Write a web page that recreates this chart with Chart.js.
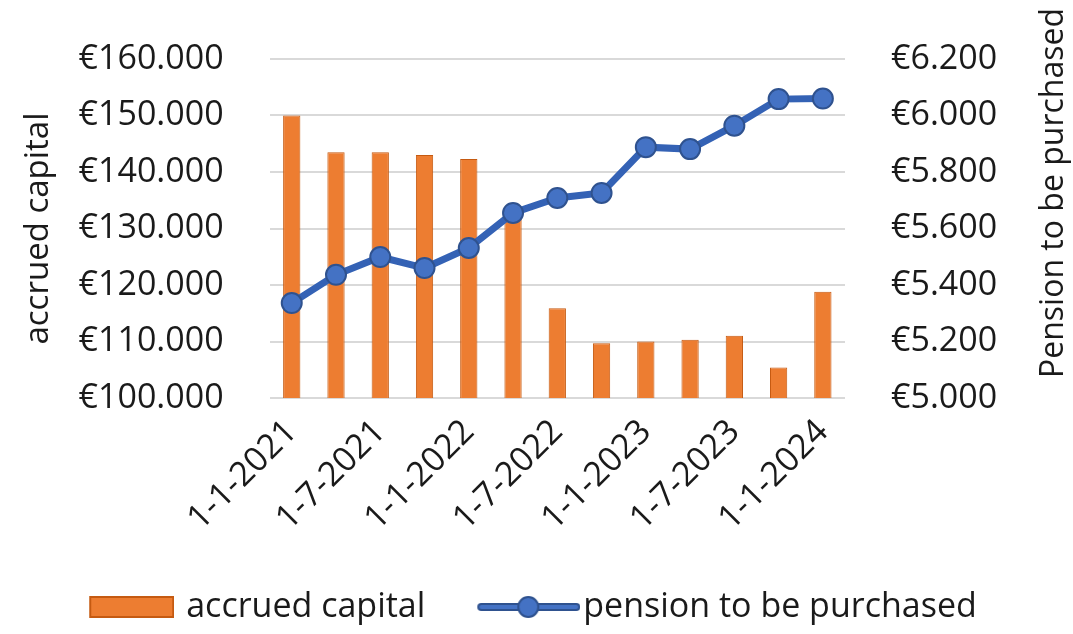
<!DOCTYPE html>
<html>
<head>
<meta charset="utf-8">
<script src="https://cdn.jsdelivr.net/npm/chart.js@4"></script>
<style>
  html, body { margin: 0; padding: 0; background: #fff; }
  #wrap { width: 1073px; height: 634px; }
</style>
</head>
<body>
<div id="wrap"><canvas id="chart" width="1073" height="634"></canvas></div>
<script>
const dates = ['1-1-2021', '1-4-2021', '1-7-2021', '1-10-2021', '1-1-2022', '1-4-2022', '1-7-2022',
    '1-10-2022', '1-1-2023', '1-4-2023', '1-7-2023', '1-10-2023', '1-1-2024'];
const accruedCapital = [150000, 143500, 143500, 143000, 142300, 132000, 115900, 109700, 110000, 110300, 111000, 105400, 118800];
const pension = [5336, 5436, 5499, 5460, 5531, 5655, 5708, 5726, 5888, 5881, 5964, 6058, 6060];

const FONT = '"Open Sans", "DejaVu Sans", sans-serif';
const TEXT = '#1a1a1a';
const CLEAR = 'rgba(0,0,0,0)';

function euro(v) {
    return '€' + String(v).replace(/\B(?=(\d{3})+(?!\d))/g, '.');
}

// legend symbols, drawn like the office-style swatches
function barSwatch() {
    const c = document.createElement('canvas');
    c.width = 98; c.height = 26;
    const g = c.getContext('2d');
    g.fillStyle = '#ED7D31';
    g.strokeStyle = '#C55A11';
    g.lineWidth = 2;
    g.fillRect(13, 2, 85, 22);
    g.strokeRect(14, 3, 83, 20);
    return c;
}

function lineSwatch() {
    const c = document.createElement('canvas');
    c.width = 116; c.height = 30;
    const g = c.getContext('2d');
    g.lineCap = 'round';
    g.strokeStyle = '#2F528F';
    g.lineWidth = 8;
    g.beginPath(); g.moveTo(17, 15); g.lineTo(112, 15); g.stroke();
    g.strokeStyle = '#4472C4';
    g.lineWidth = 4;
    g.beginPath(); g.moveTo(17, 15); g.lineTo(112, 15); g.stroke();
    g.beginPath(); g.arc(64, 15, 10, 0, Math.PI * 2);
    g.fillStyle = '#4472C4'; g.fill();
    g.strokeStyle = '#2F528F'; g.lineWidth = 2; g.stroke();
    return c;
}

const rightTitle = {
    id: 'rightTitle',
    afterDraw(chart) {
        const ctx = chart.ctx;
        ctx.save();
        ctx.translate(chart.width - 19, 193);
        ctx.rotate(-Math.PI / 2);
        ctx.font = '32px ' + FONT;
        ctx.fillStyle = TEXT;
        ctx.textAlign = 'center';
        ctx.textBaseline = 'middle';
        ctx.fillText('Pension to be purchased', 0, 0);
        ctx.restore();
    }
};

new Chart(document.getElementById('chart'), {
    data: {
        labels: dates,
        datasets: [{
            type: 'bar',
            label: 'accrued capital',
            data: accruedCapital,
            yAxisID: 'y',
            backgroundColor: '#ED7D31',
            borderColor: '#C55A11',
            borderWidth: 1,
            categoryPercentage: 1,
            barPercentage: 0.39,
            order: 1
        }, {
            type: 'line',
            label: 'pension to be purchased',
            data: pension,
            yAxisID: 'y1',
            borderColor: '#3462B5',
            borderWidth: 7,
            pointRadius: 10,
            pointBackgroundColor: '#4472C4',
            pointBorderColor: '#2F528F',
            pointBorderWidth: 2,
            tension: 0,
            order: 0
        }]
    },
    options: {
        responsive: false,
        animation: false,
        layout: { padding: { left: 14, right: 29, top: 59, bottom: 0 } },
        plugins: {
            tooltip: { enabled: false },
            legend: {
                position: 'bottom',
                labels: {
                    usePointStyle: true,
                    pointStyleWidth: 88,
                    padding: 0,
                    color: TEXT,
                    font: { family: FONT, size: 34, lineHeight: 1 },
                    generateLabels: () => [
                        { text: 'accrued capital      ', pointStyle: barSwatch(), fontColor: TEXT, datasetIndex: 0 },
                        { text: 'pension to be purchased', pointStyle: lineSwatch(), fontColor: TEXT, datasetIndex: 1 }
                    ]
                }
            }
        },
        scales: {
            x: {
                grid: { display: false },
                border: { display: false },
                afterFit: scale => { scale.height = 192; },
                ticks: {
                    autoSkip: false,
                    minRotation: 45,
                    maxRotation: 45,
                    padding: 6,
                    color: TEXT,
                    font: { family: FONT, size: 34 },
                    callback: (v, i) => (i % 2 === 0 ? dates[i] : '')
                }
            },
            y: {
                position: 'left',
                min: 100000,
                max: 160000,
                // invisible tick marks keep the labels away from the plot
                grid: { color: '#D9D9D9', lineWidth: 2, drawTicks: true, tickLength: 46, tickColor: CLEAR },
                border: { display: false },
                ticks: {
                    stepSize: 10000,
                    padding: 0,
                    color: TEXT,
                    font: { family: FONT, size: 34 },
                    callback: v => euro(v)
                },
                title: {
                    display: true,
                    text: 'accrued capital',
                    color: TEXT,
                    font: { family: FONT, size: 33 },
                    padding: { top: 5, bottom: 20 }
                }
            },
            y1: {
                position: 'right',
                min: 5000,
                max: 6200,
                grid: { display: true, drawOnChartArea: false, color: CLEAR, drawTicks: true, tickLength: 46, tickColor: CLEAR },
                border: { display: false },
                afterFit: scale => { scale.width = 199; },
                ticks: {
                    stepSize: 200,
                    padding: 0,
                    color: TEXT,
                    font: { family: FONT, size: 34 },
                    callback: v => euro(v)
                }
            }
        }
    },
    plugins: [rightTitle]
});
</script>
</body>
</html>
